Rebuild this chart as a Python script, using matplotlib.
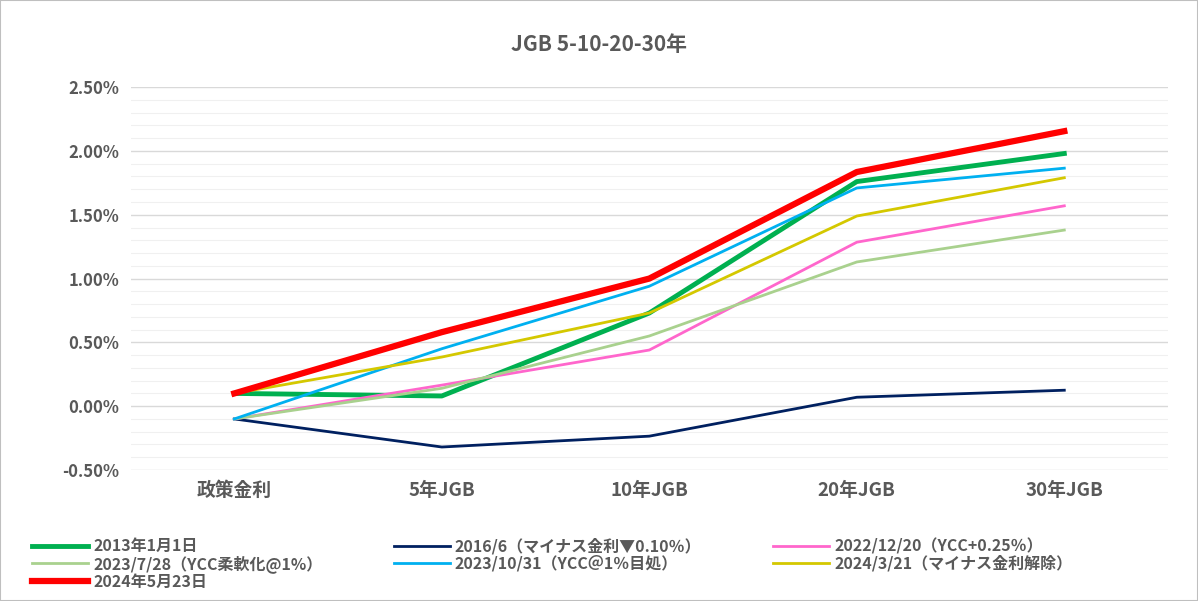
import matplotlib.pyplot as plt
from matplotlib.ticker import MultipleLocator, FuncFormatter

plt.rcParams['font.family'] = ['Noto Sans CJK JP', 'DejaVu Sans']

categories = ["政策金利", "5年JGB", "10年JGB", "20年JGB", "30年JGB"]
labels = ["2013年1月1日", "2016/6（マイナス金利▼0.10％）", "2022/12/20（YCC+0.25％）",
          "2023/7/28（YCC柔軟化@1%）", "2023/10/31（YCC＠1％目処）", "2024/3/21（マイナス金利解除）",
          "2024年5月23日"]
s2013 = [0.10, 0.08, 0.73, 1.76, 1.98]
s2016 = [-0.10, -0.32, -0.235, 0.07, 0.125]
s2022 = [-0.10, 0.165, 0.44, 1.285, 1.57]
s2023a = [-0.10, 0.14, 0.55, 1.13, 1.38]
s2023b = [-0.10, 0.45, 0.94, 1.71, 1.865]
s2024a = [0.10, 0.385, 0.73, 1.49, 1.79]
s2024b = [0.10, 0.58, 1.00, 1.835, 2.155]
series = [s2013, s2016, s2022, s2023a, s2023b, s2024a, s2024b]
colors = ["#00b050", "#002060", "#ff66cc", "#a9d18e", "#00b0f0", "#d4c800", "#ff0000"]
widths = [3.5, 2, 2, 2, 2, 2, 4.5]

fig = plt.figure(figsize=(11.98, 6.01), dpi=100)
ax = fig.add_axes([0.109, 0.218, 0.866, 0.637])
x = range(len(categories))
handles = []
for s, c, w, l in zip(series, colors, widths, labels):
    handles += ax.plot(x, s, color=c, lw=w, label=l)

ax.set_xlim(-0.5, 4.5)
ax.set_ylim(-0.5, 2.5)
ax.yaxis.set_major_locator(MultipleLocator(0.5))
ax.yaxis.set_minor_locator(MultipleLocator(0.1))
ax.yaxis.set_major_formatter(FuncFormatter(lambda v, p: f"{v:.2f}%"))
ax.grid(which='major', axis='y', color='#d9d9d9', lw=1)
ax.grid(which='minor', axis='y', color='#f0f0f0', lw=0.8)
ax.set_axisbelow(True)
ax.set_xticks(list(x))
ax.set_xticklabels(categories)
for sp in ax.spines.values():
    sp.set_visible(False)
ax.tick_params(which='both', length=0, labelcolor='#595959', pad=8)
ax.tick_params(axis='y', labelsize=12)
ax.tick_params(axis='x', labelsize=13.5)
for t in ax.get_xticklabels() + ax.get_yticklabels():
    t.set_fontweight('bold')
fig.text(0.5, 0.915, "JGB 5-10-20-30年", ha='center', fontsize=15, fontweight='bold', color='#595959')

# row-wise order for the legend
order = [0, 3, 6, 1, 4, 2, 5]
leg = fig.legend([handles[i] for i in order], [labels[i] for i in order],
                 loc='lower left', bbox_to_anchor=(0.015, -0.005), ncol=3, frameon=False,
                 fontsize=11.5, handlelength=3.5, columnspacing=4.5, labelspacing=0.05,
                 handletextpad=0.3)
for t in leg.get_texts():
    t.set_color('#595959')
    t.set_fontweight('bold')

fig.patches.append(plt.Rectangle((0, 0), 1, 1, transform=fig.transFigure, fill=False,
                                 edgecolor='#bfbfbf', lw=1.5))
fig.savefig("out.png", dpi=100)
